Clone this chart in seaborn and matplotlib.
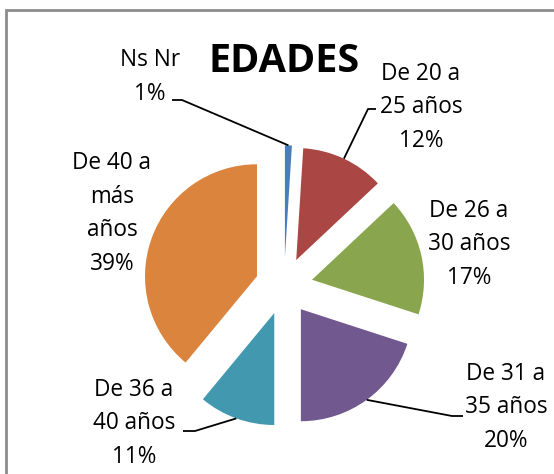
import numpy as np
import matplotlib
matplotlib.use("Agg")
import matplotlib.pyplot as plt
import seaborn as sns
from matplotlib.patches import Rectangle

# Data
categories = ["Ns Nr", "De 20 a\n25 años", "De 26 a\n30 años", "De 31 a\n35 años",
              "De 36 a\n40 años", "De 40 a\nmás\naños"]
percents = [1, 12, 17, 20, 11, 39]
colors = ["#4A7EBB", "#AA4643", "#89A54E", "#71588F", "#4198AF", "#DB843D"]

# label anchors in pixels (x centre, baseline of last line, from top)
label_pos = [(150, 100), (421, 147), (469, 284), (506, 447), (134, 463), (112, 270)]
# leader elbows (pixels from top): (elbow, end next to text) or None
leaders = [((182, 100), (172, 100)), ((368, 109), (376, 109)), None,
           ((452, 416), (463, 416)), ((195, 431), (183, 431)), None]

W, H = 554, 474

sns.set_theme(style="white")
plt.rcParams["font.family"] = ["Open Sans", "DejaVu Sans"]

fig = plt.figure(figsize=(W / 100, H / 100), dpi=100)
ax = fig.add_axes([0, 0, 1, 1])

pal = sns.color_palette(colors)
wedges, _ = ax.pie(percents, colors=pal, startangle=90, counterclock=False,
                   radius=112, center=(284, H - 286), explode=[28.7] * len(percents),
                   wedgeprops=dict(linewidth=0))

ax.set_xlim(0, W)
ax.set_ylim(0, H)
ax.set_aspect("equal")
ax.axis("off")

# labels
for cat, pct, (lx, ly) in zip(categories, percents, label_pos):
    ax.text(lx, H - ly, f"{cat}\n{pct}%", ha="center", va="baseline",
            fontsize=16.3, linespacing=1.53, color="black", multialignment="center")

# leader lines from the wedge arc midpoint
for w, ld in zip(wedges, leaders):
    if ld is None:
        continue
    th = np.deg2rad((w.theta1 + w.theta2) / 2)
    px = w.center[0] + w.r * np.cos(th)
    py = w.center[1] + w.r * np.sin(th)
    (ex, ey), (tx, ty) = ld
    ax.plot([px, ex, tx], [py, H - ey, H - ty], color="black", lw=1.3,
            solid_capstyle="butt")

# title
ax.text(284, H - 72, "EDADES", ha="center", va="baseline", fontsize=28.5,
        fontweight="bold", color="black")

# chart border (cut off on right/bottom)
ax.add_patch(Rectangle((6, -50), 700, H - 10 + 50, fill=False,
                       edgecolor="#8C8C8C", lw=2, clip_on=False))

fig.savefig("out.png", dpi=100)
